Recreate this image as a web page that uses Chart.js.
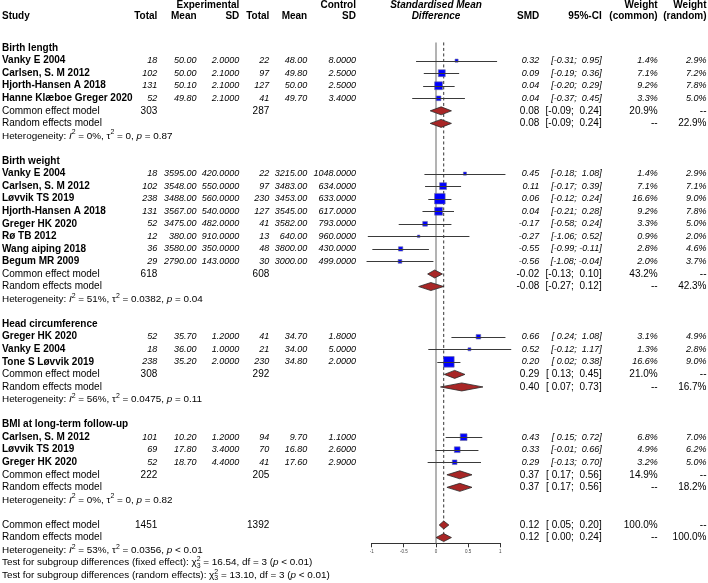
<!DOCTYPE html>
<html>
<head>
<meta charset="utf-8">
<script src="https://cdn.jsdelivr.net/npm/chart.js@4.4.0/dist/chart.umd.min.js"></script>
<style>
  html, body { margin: 0; background: #fff; }
  #wrap { width: 708px; height: 583px; position: relative; }
</style>
</head>
<body>
<div id="wrap"><canvas id="forestChart"></canvas></div>
<script>
// subgroups and studies
const groupNames = ["Birth length", "Birth weight", "Head circumference", "BMI at long-term follow-up"];
const studyNames = [
  "Vanky E 2004", "Carlsen, S. M 2012", "Hjorth-Hansen A 2018", "Hanne Klæboe Greger 2020",
  "Vanky E 2004", "Carlsen, S. M 2012", "Løvvik TS 2019", "Hjorth-Hansen A 2018", "Greger HK 2020", "Rø TB 2012", "Wang aiping 2018", "Begum MR 2009",
  "Greger HK 2020", "Vanky E 2004", "Tone S Løvvik 2019",
  "Carlsen, S. M 2012", "Løvvik TS 2019", "Greger HK 2020"
];
const studyGroup = [0, 0, 0, 0, 1, 1, 1, 1, 1, 1, 1, 1, 2, 2, 2, 3, 3, 3];
const expTotal = [18, 102, 131, 52, 18, 102, 238, 131, 52, 12, 36, 29, 52, 18, 238, 101, 69, 52];
const expMean = [50.0, 50.0, 50.1, 49.8, 3595, 3548, 3488, 3567, 3475, 380, 3580, 2790, 35.7, 36.0, 35.2, 10.2, 17.8, 18.7];
const expSD = [2.0, 2.1, 2.1, 2.1, 420, 550, 560, 540, 482, 910, 350, 143, 1.2, 1.0, 2.0, 1.2, 3.4, 4.4];
const ctlTotal = [22, 97, 127, 41, 22, 97, 230, 127, 41, 13, 48, 30, 41, 21, 230, 94, 70, 41];
const ctlMean = [48.0, 49.8, 50.0, 49.7, 3215, 3483, 3453, 3545, 3582, 640, 3800, 3000, 34.7, 34.0, 34.8, 9.7, 16.8, 17.6];
const ctlSD = [8.0, 2.5, 2.5, 3.4, 1048, 634, 633, 617, 793, 960, 430, 499, 1.8, 5.0, 2.0, 1.1, 2.6, 2.9];
const smd = [0.32, 0.09, 0.04, 0.04, 0.45, 0.11, 0.06, 0.04, -0.17, -0.27, -0.55, -0.56, 0.66, 0.52, 0.20, 0.43, 0.33, 0.29];
const ciLow = [-0.31, -0.19, -0.20, -0.37, -0.18, -0.17, -0.12, -0.21, -0.58, -1.06, -0.99, -1.08, 0.24, -0.12, 0.02, 0.15, -0.01, -0.13];
const ciHigh = [0.95, 0.36, 0.29, 0.45, 1.08, 0.39, 0.24, 0.28, 0.24, 0.52, -0.11, -0.04, 1.08, 1.17, 0.38, 0.72, 0.66, 0.70];
const wCommon = [1.4, 7.1, 9.2, 3.3, 1.4, 7.1, 16.6, 9.2, 3.3, 0.9, 2.8, 2.0, 3.1, 1.3, 16.6, 6.8, 4.9, 3.2];
const wRandom = [2.9, 7.2, 7.8, 5.0, 2.9, 7.1, 9.0, 7.8, 5.0, 2.0, 4.6, 3.7, 4.9, 2.8, 9.0, 7.0, 6.2, 5.0];

// subgroup summaries
const groupExpTotal = [303, 618, 308, 222];
const groupCtlTotal = [287, 608, 292, 205];
const commonEst = [0.08, -0.02, 0.29, 0.37];
const commonLow = [-0.09, -0.13, 0.13, 0.17];
const commonHigh = [0.24, 0.10, 0.45, 0.56];
const commonWeight = [20.9, 43.2, 21.0, 14.9];
const randomEst = [0.08, -0.08, 0.40, 0.37];
const randomLow = [-0.09, -0.27, 0.07, 0.17];
const randomHigh = [0.24, 0.12, 0.73, 0.56];
const randomWeight = [22.9, 42.3, 16.7, 18.2];
const hetI2 = [0, 51, 56, 0];
const hetTau2 = ["0", "0.0382", "0.0475", "0"];
const hetP = ["= 0.87", "= 0.04", "= 0.11", "= 0.82"];

// overall
const overallTotals = [1451, 1392];
const overallCommon = [0.12, 0.05, 0.20, 100.0];
const overallRandom = [0.12, 0.00, 0.24, 100.0];
const overallHet = [53, "0.0356", "< 0.01"];
const subgroupTests = [["fixed effect", "16.54", 3], ["random effects", "13.10", 3]];
const xTicks = [-1, -0.5, 0, 0.5, 1];

const FAM = '"Liberation Sans", Arial, sans-serif';
const ROW0 = 40.6, ROWH = 12.74, AXIS_Y = 543.3;
const HET_SIZE = 9.9;

// row layout
const studyRow = [], headerRow = [], commonRow = [], randomRow = [], hetRow = [];
let r = 0;
groupNames.forEach((g, gi) => {
  headerRow.push(r++);
  studyGroup.forEach((sg, i) => { if (sg === gi) studyRow[i] = r++; });
  commonRow.push(r++);
  randomRow.push(r++);
  hetRow.push(r++);
  r++;
});
const ovCommonRow = r, ovRandomRow = r + 1, ovHetRow = r + 2, testRow = [r + 3, r + 4];

const fmtCI = (lo, hi) => {
  const p = (v) => (v < 0 ? v.toFixed(2) : " " + v.toFixed(2));
  return `[${p(lo)}; ${p(hi)}]`;
};

function richText(ctx, x, y, parts, size) {
  let cx = x;
  ctx.textAlign = "left";
  parts.forEach(([t, st]) => {
    const small = size * 0.7;
    if (st === "ss") {
      ctx.font = `${small}px ${FAM}`;
      ctx.fillText(t[0], cx, y - size * 0.35);
      ctx.fillText(t[1], cx, y + size * 0.3);
      cx += Math.max(ctx.measureText(t[0]).width, ctx.measureText(t[1]).width);
      return;
    }
    let fs = size, dy = 0, style = "";
    if (st === "i") style = "italic ";
    if (st === "^") { fs = small; dy = -size * 0.35; }
    ctx.font = `${style}${fs}px ${FAM}`;
    ctx.fillText(t, cx, y + dy);
    cx += ctx.measureText(t).width;
  });
}

function hetParts(i2, tau2, p) {
  return [["Heterogeneity: ", ""], ["I", "i"], ["2", "^"], [` = ${i2}%, `, ""], ["τ", ""], ["2", "^"],
    [` = ${tau2}, `, ""], ["p", "i"], [` ${p}`, ""]];
}

const forestPlugin = {
  id: "forest",
  beforeDatasetsDraw(chart) {
    const { ctx, scales: { x, y } } = chart;
    const top = y.getPixelForValue(-0.45);
    ctx.save();
    ctx.strokeStyle = "#8a8a8a";
    ctx.lineWidth = 1.3;
    ctx.beginPath();
    ctx.moveTo(x.getPixelForValue(0), top);
    ctx.lineTo(x.getPixelForValue(0), AXIS_Y);
    ctx.stroke();
    ctx.strokeStyle = "#333";
    ctx.lineWidth = 1;
    ctx.setLineDash([3, 2.5]);
    ctx.beginPath();
    ctx.moveTo(x.getPixelForValue(overallCommon[0]), top);
    ctx.lineTo(x.getPixelForValue(overallCommon[0]), AXIS_Y);
    ctx.stroke();
    ctx.restore();
  },
  afterDatasetsDraw(chart) {
    const { ctx, scales: { x, y } } = chart;
    ctx.save();
    // confidence intervals
    ctx.strokeStyle = "#3a3a3a";
    ctx.lineWidth = 1;
    smd.forEach((v, i) => {
      const py = Math.round(y.getPixelForValue(studyRow[i])) + 0.5;
      ctx.beginPath();
      ctx.moveTo(x.getPixelForValue(ciLow[i]), py);
      ctx.lineTo(x.getPixelForValue(ciHigh[i]), py);
      ctx.stroke();
    });
    // diamonds
    const diamond = (est, lo, hi, row) => {
      const py = y.getPixelForValue(row);
      ctx.beginPath();
      ctx.moveTo(x.getPixelForValue(lo), py);
      ctx.lineTo(x.getPixelForValue(est), py - 4);
      ctx.lineTo(x.getPixelForValue(hi), py);
      ctx.lineTo(x.getPixelForValue(est), py + 4);
      ctx.closePath();
      ctx.fillStyle = "#a82626";
      ctx.fill();
      ctx.strokeStyle = "#2a2a2a";
      ctx.lineWidth = 0.8;
      ctx.stroke();
    };
    groupNames.forEach((g, gi) => {
      diamond(commonEst[gi], commonLow[gi], commonHigh[gi], commonRow[gi]);
      diamond(randomEst[gi], randomLow[gi], randomHigh[gi], randomRow[gi]);
    });
    diamond(overallCommon[0], overallCommon[1], overallCommon[2], ovCommonRow);
    diamond(overallRandom[0], overallRandom[1], overallRandom[2], ovRandomRow);

    // text
    ctx.fillStyle = "#000";
    ctx.textBaseline = "middle";
    const t = (s, px, py, font, align = "right") => {
      ctx.font = font;
      ctx.textAlign = align;
      ctx.fillText(s, px, py);
    };
    const B = `bold 10px ${FAM}`, R = `10px ${FAM}`, I = `italic 9px ${FAM}`, BI = `bold italic 10px ${FAM}`;
    const cx = { expT: 157.3, expM: 196.6, expS: 239.3, ctlT: 269.3, ctlM: 307.2, ctlS: 356, smd: 539.3, ci: 601.7, wc: 657.7, wr: 706.5 };

    // header
    const h1 = 5, h2 = 16.7;
    t("Experimental", cx.expS, h1, B);
    t("Control", cx.ctlS, h1, B);
    t("Standardised Mean", x.getPixelForValue(0), h1, BI, "center");
    t("Difference", x.getPixelForValue(0), h2, BI, "center");
    t("Weight", cx.wc, h1, B);
    t("Weight", cx.wr, h1, B);
    t("Study", 2, h2, B, "left");
    t("Total", cx.expT, h2, B);
    t("Mean", cx.expM, h2, B);
    t("SD", cx.expS, h2, B);
    t("Total", cx.ctlT, h2, B);
    t("Mean", cx.ctlM, h2, B);
    t("SD", cx.ctlS, h2, B);
    t("SMD", cx.smd, h2, B);
    t("95%-CI", cx.ci, h2, B);
    t("(common)", cx.wc, h2, B);
    t("(random)", cx.wr, h2, B);

    groupNames.forEach((g, gi) => {
      t(g, 2, y.getPixelForValue(headerRow[gi]), B, "left");
      const pc = y.getPixelForValue(commonRow[gi]);
      const pr = y.getPixelForValue(randomRow[gi]);
      t("Common effect model", 2, pc, R, "left");
      t(String(groupExpTotal[gi]), cx.expT, pc, R);
      t(String(groupCtlTotal[gi]), cx.ctlT, pc, R);
      t(commonEst[gi].toFixed(2), cx.smd, pc, R);
      t(fmtCI(commonLow[gi], commonHigh[gi]), cx.ci, pc, R);
      t(commonWeight[gi].toFixed(1) + "%", cx.wc, pc, R);
      t("--", cx.wr, pc, R);
      t("Random effects model", 2, pr, R, "left");
      t(randomEst[gi].toFixed(2), cx.smd, pr, R);
      t(fmtCI(randomLow[gi], randomHigh[gi]), cx.ci, pr, R);
      t("--", cx.wc, pr, R);
      t(randomWeight[gi].toFixed(1) + "%", cx.wr, pr, R);
      richText(ctx, 2, y.getPixelForValue(hetRow[gi]), hetParts(hetI2[gi], hetTau2[gi], hetP[gi]), HET_SIZE);
    });

    studyNames.forEach((name, i) => {
      const py = y.getPixelForValue(studyRow[i]);
      t(name, 2, py, B, "left");
      t(String(expTotal[i]), cx.expT, py, I);
      t(expMean[i].toFixed(2), cx.expM, py, I);
      t(expSD[i].toFixed(4), cx.expS, py, I);
      t(String(ctlTotal[i]), cx.ctlT, py, I);
      t(ctlMean[i].toFixed(2), cx.ctlM, py, I);
      t(ctlSD[i].toFixed(4), cx.ctlS, py, I);
      t(smd[i].toFixed(2), cx.smd, py, I);
      t(fmtCI(ciLow[i], ciHigh[i]), cx.ci, py, I);
      t(wCommon[i].toFixed(1) + "%", cx.wc, py, I);
      t(wRandom[i].toFixed(1) + "%", cx.wr, py, I);
    });

    // overall
    const oc = y.getPixelForValue(ovCommonRow), orr = y.getPixelForValue(ovRandomRow);
    t("Common effect model", 2, oc, R, "left");
    t(String(overallTotals[0]), cx.expT, oc, R);
    t(String(overallTotals[1]), cx.ctlT, oc, R);
    t(overallCommon[0].toFixed(2), cx.smd, oc, R);
    t(fmtCI(overallCommon[1], overallCommon[2]), cx.ci, oc, R);
    t(overallCommon[3].toFixed(1) + "%", cx.wc, oc, R);
    t("--", cx.wr, oc, R);
    t("Random effects model", 2, orr, R, "left");
    t(overallRandom[0].toFixed(2), cx.smd, orr, R);
    t(fmtCI(overallRandom[1], overallRandom[2]), cx.ci, orr, R);
    t("--", cx.wc, orr, R);
    t(overallRandom[3].toFixed(1) + "%", cx.wr, orr, R);
    richText(ctx, 2, y.getPixelForValue(ovHetRow), hetParts(overallHet[0], overallHet[1], overallHet[2]), HET_SIZE);
    subgroupTests.forEach(([kind, chi, df], k) => {
      richText(ctx, 2, y.getPixelForValue(testRow[k]), [
        [`Test for subgroup differences (${kind}): `, ""], ["χ", ""], [["2", String(df)], "ss"],
        [` = ${chi}, df = ${df} (`, ""], ["p", "i"], [" < 0.01)", ""]
      ], HET_SIZE);
    });
    ctx.restore();
  }
};

document.addEventListener("DOMContentLoaded", () => {
  const ctx = document.getElementById("forestChart").getContext("2d");

  const config = {
    type: "scatter",
    data: {
      datasets: [
        {
          label: "Studies",
          data: smd.map((v, i) => ({ x: v, y: studyRow[i] })),
          pointStyle: "rect",
          pointRadius: wCommon.map((w) => (2.6 * Math.sqrt(w)) / Math.SQRT2),
          backgroundColor: "#0000ff",
          borderColor: "#6b6b9a",
          borderWidth: 0.6,
        },
      ],
    },
    options: {
      responsive: true,
      maintainAspectRatio: false,
      animation: false,
      layout: { padding: { left: 371.7, right: 207.7, top: 0, bottom: 583 - AXIS_Y - 13.4 } },
      plugins: {
        legend: { display: false },
        tooltip: { enabled: false },
      },
      scales: {
        x: {
          type: "linear",
          min: -1,
          max: 1,
          afterBuildTicks: (scale) => { scale.ticks = xTicks.map((v) => ({ value: v })); },
          grid: { display: true, drawOnChartArea: false, drawTicks: true, tickLength: 4, color: "#333" },
          border: { display: true, color: "#333", width: 1 },
          ticks: {
            font: { size: 4.5, family: FAM },
            color: "#444",
            padding: 2,
            maxRotation: 0,
            autoSkip: false,
            callback: (value) => String(value),
          },
        },
        y: {
          type: "linear",
          display: false,
          reverse: true,
          min: -ROW0 / ROWH,
          max: (AXIS_Y - ROW0) / ROWH,
        },
      },
    },
    plugins: [forestPlugin],
  };

  new Chart(ctx, config);
});
</script>
</body>
</html>
